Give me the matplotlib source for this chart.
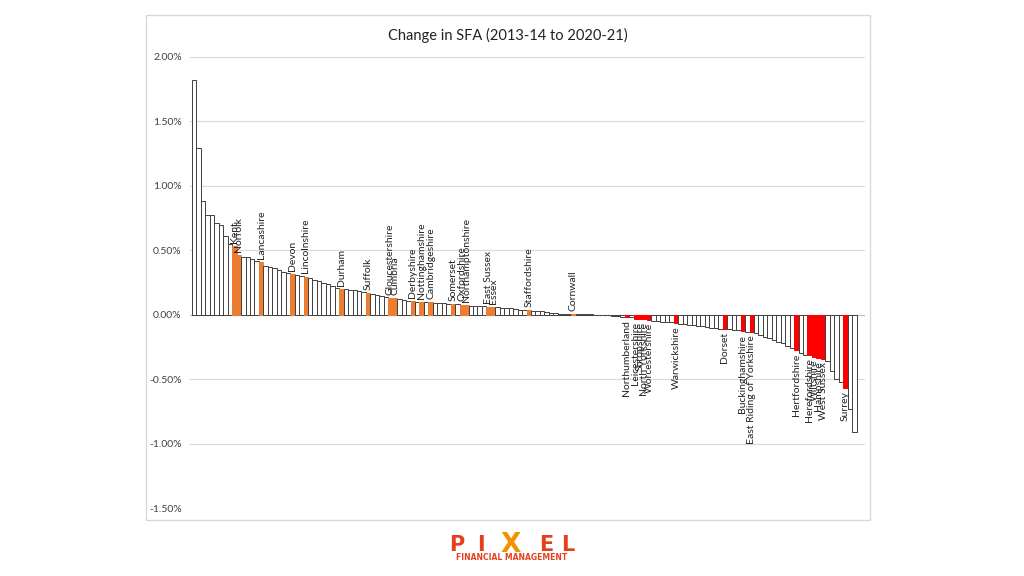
import matplotlib
matplotlib.use("Agg")
import matplotlib.pyplot as plt
from matplotlib.patches import Rectangle
from matplotlib.ticker import FuncFormatter

# Change in SFA (%) for each authority, ranked high to low
values = [
    1.82, 1.29, 0.88, 0.77, 0.77, 0.71, 0.70, 0.61, 0.55, 0.53,
    0.46, 0.45, 0.445, 0.43, 0.42, 0.41, 0.38, 0.37, 0.36, 0.35,
    0.335, 0.325, 0.315, 0.31, 0.30, 0.295, 0.285, 0.27, 0.26, 0.25,
    0.24, 0.225, 0.21, 0.20, 0.198, 0.195, 0.19, 0.185, 0.18, 0.165,
    0.16, 0.155, 0.145, 0.14, 0.13, 0.128, 0.12, 0.115, 0.11, 0.105,
    0.10, 0.10, 0.098, 0.095, 0.092, 0.09, 0.088, 0.085, 0.082, 0.08,
    0.078, 0.077, 0.07, 0.068, 0.067, 0.065, 0.062, 0.06, 0.058, 0.055,
    0.052, 0.05, 0.045, 0.04, 0.037, 0.033, 0.03, 0.028, 0.025, 0.02,
    0.012, 0.01, 0.009, 0.008, 0.007, 0.006, 0.005, 0.004, 0.003, 0.002,
    0.001, 0.0, -0.002, -0.004, -0.008, -0.012, -0.014, -0.018, -0.02, -0.035,
    -0.036, -0.037, -0.038, -0.045, -0.05, -0.055, -0.058, -0.06, -0.065, -0.07,
    -0.075, -0.078, -0.08, -0.085, -0.09, -0.095, -0.10, -0.105, -0.108, -0.11,
    -0.112, -0.115, -0.12, -0.13, -0.133, -0.137, -0.14, -0.155, -0.17, -0.18,
    -0.20, -0.21, -0.22, -0.24, -0.255, -0.275, -0.30, -0.31, -0.315, -0.325,
    -0.335, -0.345, -0.36, -0.44, -0.50, -0.52, -0.57, -0.73, -0.91,
]

# highlighted counties: rank position and name
county_rank = [9, 10, 15, 22, 25, 33, 39, 44, 45, 49, 51, 53, 58, 60, 61, 66, 67,
               75, 85, 97, 99, 100, 101, 102, 108, 119, 123, 125, 135, 138, 139,
               140, 141, 146]
county_name = ["Kent", "Norfolk", "Lancashire", "Devon", "Lincolnshire", "Durham",
               "Suffolk", "Gloucestershire", "Cumbria", "Derbyshire",
               "Nottinghamshire", "Cambridgeshire", "Somerset", "Oxfordshire",
               "Northamptonshire", "East Sussex", "Essex", "Staffordshire",
               "Cornwall", "Northumberland", "Leicestershire", "Shropshire",
               "North Yorkshire", "Worcestershire", "Warwickshire", "Dorset",
               "Buckinghamshire", "East Riding of Yorkshire", "Hertfordshire",
               "Herefordshire", "Wiltshire", "Hampshire", "West Sussex", "Surrey"]

yticks = [-1.5, -1.0, -0.5, 0.0, 0.5, 1.0, 1.5, 2.0]

plt.rcParams['font.family'] = ['Lato', 'DejaVu Sans']

fig = plt.figure(figsize=(10.24, 5.76), dpi=100)
fig.patch.set_facecolor('white')

# chart frame
fig.patches.append(Rectangle((146 / 1024, 1 - 520 / 576), 724 / 1024, 505 / 576,
                             transform=fig.transFigure, fill=False,
                             edgecolor='#d9d9d9', linewidth=1))

ax = fig.add_axes([190 / 1024, 1 - 508 / 576, 675 / 1024, 451 / 576])

n = len(values)
x = list(range(n))
fills = ['white'] * n
edges = ['#404040'] * n
for r in county_rank:
    c = '#ed7d31' if values[r] >= 0 else '#ff0000'
    fills[r] = c
    edges[r] = c

ax.bar(x, values, width=1.0, color=fills, edgecolor=edges, linewidth=0.7, zorder=3)

for r, name in zip(county_rank, county_name):
    v = values[r]
    if v >= 0:
        ax.text(r, v + 0.025, name, rotation=90, ha='center', va='bottom',
                fontsize=7.5, color='#222222', zorder=4)
    else:
        ax.text(r, v - 0.025, name, rotation=90, ha='center', va='top',
                fontsize=7.5, color='#222222', zorder=4)

ax.set_ylim(-1.5, 2.0)
ax.set_xlim(-0.95, -0.95 + 675 / 4.46)
ax.set_yticks(yticks)
ax.yaxis.set_major_formatter(FuncFormatter(lambda v, p: f"{v:.2f}%"))
ax.tick_params(axis='y', length=0, labelsize=7.5, colors='#404040', pad=6)
ax.set_xticks([])
ax.grid(axis='y', color='#d9d9d9', linewidth=0.8, zorder=0)
ax.axhline(0, color='#bfbfbf', linewidth=0.8, zorder=2)
for s in ax.spines.values():
    s.set_visible(False)

fig.text(508 / 1024, 1 - 35 / 576, "Change in SFA (2013-14 to 2020-21)",
         ha='center', va='center', fontsize=10.5, color='#222222')

# logo
red = '#e5401c'
for letter, px in [("P", 457), ("I", 481), ("E", 546), ("L", 568)]:
    fig.text(px / 1024, 1 - 545 / 576, letter, ha='center', va='center',
             fontsize=15, fontweight='bold', color=red, family='DejaVu Sans')
fig.text(511 / 1024, 1 - 545 / 576, "X", ha='center', va='center',
         fontsize=19, fontweight='bold', color='#f39200', family='DejaVu Sans')
fig.text(512 / 1024, 1 - 558 / 576, "FINANCIAL MANAGEMENT", ha='center',
         va='center', fontsize=5.5, fontweight='bold', color=red,
         family='DejaVu Sans')

fig.savefig("out.png", dpi=100, facecolor='white')
